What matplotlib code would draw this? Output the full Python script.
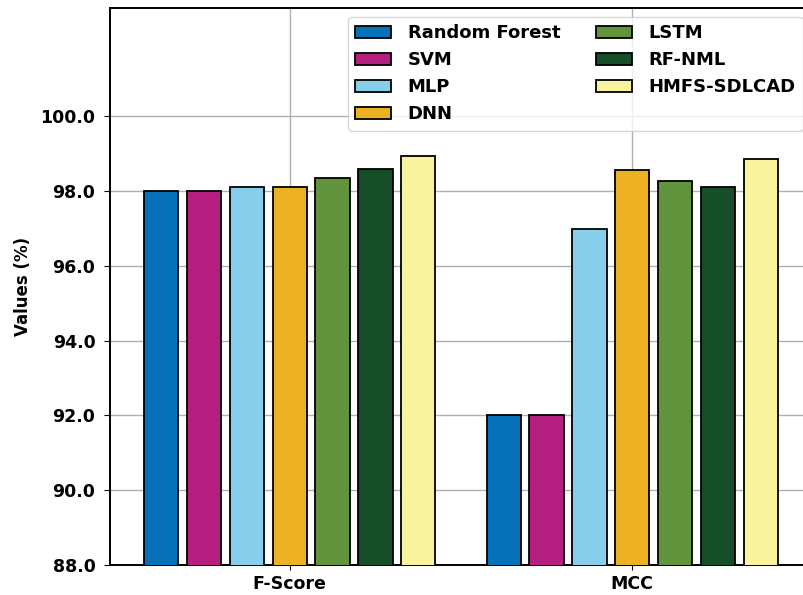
import matplotlib
matplotlib.use("Agg")
import matplotlib.pyplot as plt
import numpy as np

# データ
metrics = ["F-Score", "MCC"]
models = ["Random Forest", "SVM", "MLP", "DNN", "LSTM", "RF-NML", "HMFS-SDLCAD"]
rf = [98.0, 92.0]
svm = [98.0, 92.0]
mlp = [98.1, 97.0]
dnn = [98.1, 98.56]
lstm = [98.34, 98.28]
rf_nml = [98.58, 98.1]
hmfs = [98.94, 98.85]
colors = ["#0670b9", "#b41e7e", "#87ceeb", "#edb124", "#62943e", "#164e2a", "#f8f39c"]

series = [rf, svm, mlp, dnn, lstm, rf_nml, hmfs]

fig = plt.figure(figsize=(8.04, 5.95), dpi=100)
ax = fig.add_axes([110 / 804, 30 / 595, 702 / 804, 557 / 595])

x = np.arange(len(metrics))
width = 0.1
step = 0.125

for i, (vals, name) in enumerate(zip(series, models)):
    ax.bar(x + (i - 3) * step, vals, width, color=colors[i], edgecolor="black",
           linewidth=1.3, label=name, zorder=3)

ax.set_ylim(88, 102.9)
ax.set_xlim(-0.525, 1.525)
ax.set_yticks(np.arange(88, 101, 2))
ax.set_yticklabels([f"{v:.1f}" for v in np.arange(88, 101, 2)], fontsize=12.5, fontweight="bold")
ax.set_xticks(x)
ax.set_xticklabels(metrics, fontsize=12.5, fontweight="bold")
ax.tick_params(axis="y", pad=6, length=4.5)
ax.set_ylabel("Values (%)", fontsize=12, fontweight="bold", labelpad=6)
ax.grid(True, color="#b0b0b0", linewidth=1, zorder=0)
ax.set_axisbelow(True)
for s in ax.spines.values():
    s.set_linewidth(1.4)

ax.legend(loc="upper right", ncol=2, prop={"size": 13, "weight": "bold"},
          handletextpad=0.9)

fig.savefig("out.png", dpi=100)
